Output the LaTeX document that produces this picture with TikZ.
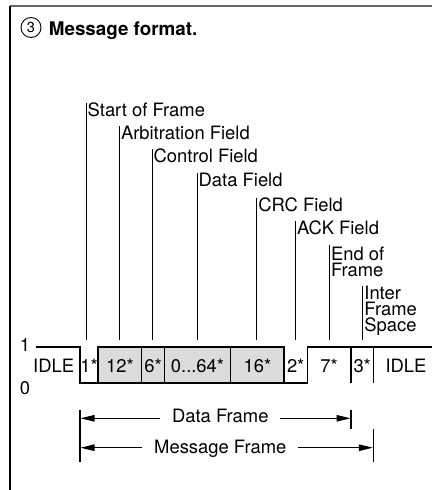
\documentclass[tikz,border=0pt]{standalone}
\usepackage{fontspec}
\setmainfont{TeX Gyre Heros}
\usetikzlibrary{arrows.meta}
\definecolor{boxgrey}{HTML}{DCDCDC}
\definecolor{framegrey}{HTML}{666666}
\begin{document}
\begin{tikzpicture}[x=1pt,y=-1pt,
  lbl/.style={font=\fontsize{18.4}{15.8}\selectfont, inner sep=0pt, anchor=base west, align=left},
  lblm/.style={font=\fontsize{18.4}{15.8}\selectfont, inner sep=0pt, anchor=north west, align=left},
  bit/.style={font=\fontsize{18.4}{15.8}\selectfont, inner sep=0pt, anchor=center},
  lead/.style={line width=1pt},
  sig/.style={line width=1.1pt},
  dim/.style={line width=1.1pt},
  arr/.style={line width=1.1pt, -{Triangle[length=14pt,width=6.5pt]}}]
\useasboundingbox (0,0) rectangle (432,490);
% frame
\coordinate (ftl) at (10,6);
\coordinate (ftr) at (432,6);
\coordinate (fbl) at (10,490);
\draw[framegrey, line width=2.2pt] (ftl) -- (ftr);
\draw[line width=1.3pt] (ftl) -- (fbl);
% title
\node[draw, circle, line width=0.9pt, minimum size=20pt, inner sep=0pt, font=\fontsize{14.5}{14.5}\selectfont] (num) at (31,27.5) {3};
\node[font=\fontsize{18.8}{20}\selectfont\bfseries, inner sep=0pt, anchor=base west] (title) at (48.7,35) {Message format.};
% leader lines and labels
\coordinate (l1t) at (86,103);   \coordinate (l1b) at (86,340);
\coordinate (l2t) at (119.3,126); \coordinate (l2b) at (119.3,340);
\coordinate (l3t) at (152,149.3); \coordinate (l3b) at (152,340);
\coordinate (l4t) at (197,173);   \coordinate (l4b) at (197,340);
\coordinate (l5t) at (256.7,197.7); \coordinate (l5b) at (256.7,340);
\coordinate (l6t) at (295.3,221); \coordinate (l6b) at (295.3,340);
\coordinate (l7t) at (329.3,245); \coordinate (l7b) at (329.3,340);
\coordinate (l8t) at (362.7,285.5); \coordinate (l8b) at (362.7,340);
\foreach \i in {1,...,8} {\draw[lead] (l\i t) -- (l\i b);}
\node[lbl] (sof) at (87.5,116.7) {Start of Frame};
\node[lbl] (arb) at (120.8,139.3) {Arbitration Field};
\node[lbl] (ctl) at (153.5,162.6) {Control Field};
\node[lbl] (dat) at (198.5,186.3) {Data Field};
\node[lbl] (crc) at (258.2,211) {CRC Field};
\node[lbl] (ack) at (296.8,234.3) {ACK Field};
\node[lblm] (eof) at (330.8,246.9) {End of\\Frame};
\node[lblm] (ifs) at (364.2,286.3) {Inter\\Frame\\Space};
% signal
\draw[sig, fill=boxgrey] (98,347) rectangle (284,383);
\draw[sig] (36,347) -- (80,347) -- (80,383) -- (307.3,383) -- (307.3,347) -- (432,347);
\draw[sig] (141.7,347) -- (141.7,383);
\draw[sig] (164.3,347) -- (164.3,383);
\draw[sig] (230.7,347) -- (230.7,383);
\draw[sig] (351,347) -- (351,383);
\draw[sig] (373.3,347) -- (373.3,383);
\node[bit] (one) at (25,345) {1};
\node[bit] (zero) at (25,388) {0};
\node[bit] (idl) at (53.7,365.5) {IDLE};
\node[bit] (b1) at (89,365.5) {1*};
\node[bit] (b12) at (120,365.5) {12*};
\node[bit] (b6) at (153,365.5) {6*};
\node[bit] (b64) at (197.5,365.5) {0...64*};
\node[bit] (b16) at (257.5,365.5) {16*};
\node[bit] (b2) at (295.7,365.5) {2*};
\node[bit] (b7) at (329,365.5) {7*};
\node[bit] (b3) at (362.2,365.5) {3*};
\node[bit] (idr) at (406,365.5) {IDLE};
% dimension lines
\coordinate (dl1) at (80,410); \coordinate (dl2) at (80,462);
\coordinate (dd1) at (351,410); \coordinate (dd2) at (351,429);
\coordinate (dm1) at (373.3,429); \coordinate (dm2) at (373.3,462);
\draw[dim] (dl1) -- (dl2);
\draw[dim] (dd1) -- (dd2);
\draw[dim] (dm1) -- (dm2);
\node[font=\fontsize{18.4}{20}\selectfont, inner sep=0pt, anchor=base] (df) at (220.3,422.7) {Data Frame};
\node[font=\fontsize{18.4}{20}\selectfont, inner sep=0pt, anchor=base] (mf) at (220.3,453.3) {Message Frame};
\coordinate (dfa) at (160,418.3); \coordinate (dfb) at (80.5,418.3);
\coordinate (dfc) at (280,418.3); \coordinate (dfd) at (350.5,418.3);
\coordinate (mfa) at (141.7,447.7); \coordinate (mfb) at (80.5,447.7);
\coordinate (mfc) at (298.3,447.7); \coordinate (mfd) at (372.8,447.7);
\draw[arr] (dfa) -- (dfb);
\draw[arr] (dfc) -- (dfd);
\draw[arr] (mfa) -- (mfb);
\draw[arr] (mfc) -- (mfd);
\end{tikzpicture}
\end{document}
